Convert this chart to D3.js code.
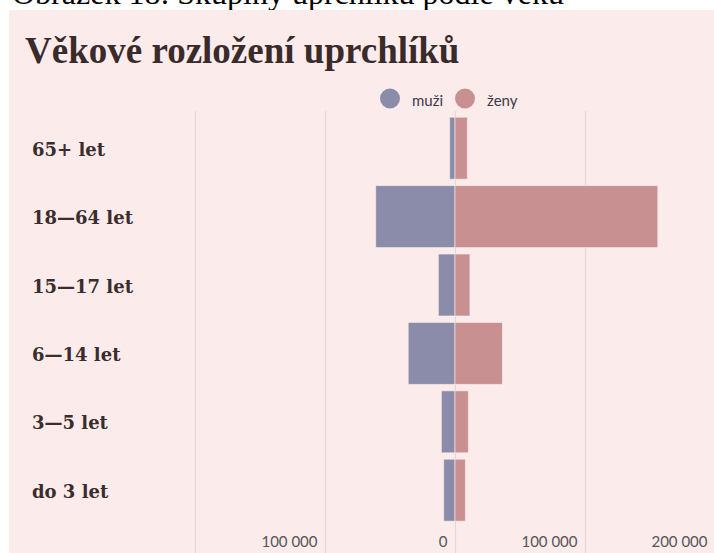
<!DOCTYPE html>
<html>
<head>
<meta charset="utf-8">
<script src="https://cdn.jsdelivr.net/npm/d3@7"></script>
<style>
  html, body { margin: 0; padding: 0; background: #fff; }
  svg { display: block; }
</style>
</head>
<body>
<script>
const width = 714,
      height = 553;

// data
const ages = ["65+ let", "18—64 let", "15—17 let", "6—14 let", "3—5 let", "do 3 let"];
const men = [4100, 61000, 12800, 36000, 10500, 8700];
const women = [9500, 156000, 11500, 36500, 10300, 8000];
const gridTicks = [-200000, -100000, 0, 100000, 200000];
const labelTicks = [-100000, 0, 100000, 200000];
const seriesNames = ["muži", "ženy"];

const colors = { men: "#8a8ca9", women: "#c89090" };

const svg = d3.select("body")
  .append("svg")
  .attr("width", width)
  .attr("height", height);

// caption above the card (cut off at the top)
svg.append("text")
  .attr("x", 12)
  .attr("y", 3.5)
  .style("font-family", "'Liberation Serif', serif")
  .style("font-size", "32px")
  .style("fill", "#000")
  .text("Obrázek 18: Skupiny uprchlíků podle věku");

svg.append("rect")
  .attr("x", 9)
  .attr("y", 10)
  .attr("width", width - 9)
  .attr("height", height - 10)
  .attr("fill", "#fcebeb");

svg.append("text")
  .attr("x", 25)
  .attr("y", 63)
  .style("font-family", "'Liberation Serif', serif")
  .style("font-weight", "bold")
  .style("font-size", "37px")
  .style("fill", "#3a2b2b")
  .text("Věkové rozložení uprchlíků");

const x = d3.scaleLinear()
  .domain([-200000, 200000])
  .range([195, 715]);

const y = d3.scaleBand()
  .domain(ages)
  .range([114, 524.4])
  .paddingInner(0.094)
  .paddingOuter(0.047);

const fmt = d3.formatLocale({ decimal: ",", thousands: " ", grouping: [3], currency: ["", " Kč"] }).format(",");

/* ------- grid ------- */
const grid = svg.append("g")
  .attr("class", "grid")
  .attr("transform", "translate(0," + height + ")")
  .call(d3.axisBottom(x).tickValues(gridTicks).tickSize(-(height - 111)).tickFormat(""));
grid.select(".domain").remove();
grid.selectAll(".tick line")
  .attr("stroke", "#e8d6d6")
  .attr("stroke-width", 1.2);

/* ------- bars ------- */
const rows = ages.map((age, i) => ({ age, men: men[i], women: women[i] }));

svg.append("g").selectAll("rect.men")
  .data(rows)
  .join("rect")
  .attr("class", "men")
  .attr("x", (d) => x(-d.men))
  .attr("y", (d) => y(d.age))
  .attr("width", (d) => x(0) - x(-d.men))
  .attr("height", y.bandwidth())
  .attr("fill", colors.men)
  .attr("stroke", "rgba(255,240,240,0.6)")
  .attr("stroke-width", 1);

svg.append("g").selectAll("rect.women")
  .data(rows)
  .join("rect")
  .attr("class", "women")
  .attr("x", x(0))
  .attr("y", (d) => y(d.age))
  .attr("width", (d) => x(d.women) - x(0))
  .attr("height", y.bandwidth())
  .attr("fill", colors.women)
  .attr("stroke", "rgba(255,240,240,0.6)")
  .attr("stroke-width", 1);

/* ------- row labels ------- */
svg.append("g").selectAll("text")
  .data(ages)
  .join("text")
  .attr("x", 32)
  .attr("y", (d) => y(d) + y.bandwidth() / 2 + 7.5)
  .style("font-family", "'DejaVu Serif', serif")
  .style("font-weight", "bold")
  .style("font-size", "18px")
  .style("fill", "#3a2d2d")
  .text((d) => d);

/* ------- axis labels ------- */
const axis = svg.append("g")
  .attr("transform", "translate(0,547)")
  .call(d3.axisBottom(x).tickValues(labelTicks).tickSize(0).tickFormat((d) => fmt(Math.abs(d))));
axis.select(".domain").remove();
axis.selectAll(".tick text")
  .attr("y", 0)
  .attr("dy", 0)
  .attr("dx", -8)
  .attr("text-anchor", "end")
  .style("font-family", "Lato, sans-serif")
  .style("font-size", "15px")
  .style("fill", "#555");

/* ------- legend ------- */
const legend = svg.append("g").selectAll("g")
  .data(seriesNames)
  .join("g")
  .attr("transform", (d, i) => "translate(" + (390 + i * 75) + ",98.5)");

legend.append("circle")
  .attr("r", 10)
  .attr("fill", (d, i) => i === 0 ? colors.men : colors.women);

legend.append("text")
  .attr("x", 22)
  .attr("y", 7)
  .style("font-family", "Lato, sans-serif")
  .style("font-size", "15px")
  .style("fill", "#3a3a4a")
  .text((d) => d);
</script>
</body>
</html>
